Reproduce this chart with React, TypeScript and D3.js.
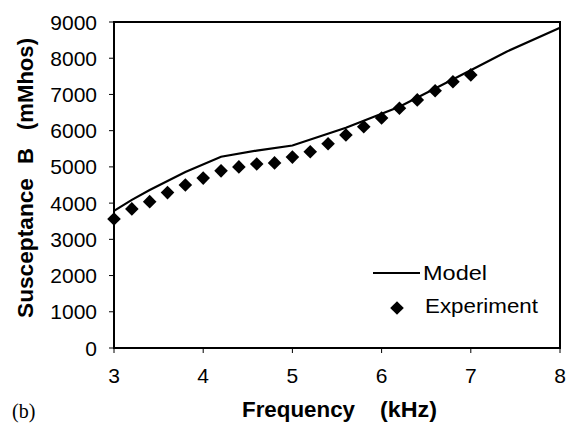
import React from "react";
import * as d3 from "d3";

const modelX = [3, 3.2, 3.4, 3.8, 4.2, 4.6, 5.0, 5.6, 6.2, 7.07, 7.4, 8.0];
const modelY = [3785, 4090, 4360, 4860, 5280, 5450, 5590, 6080, 6660, 7760, 8180, 8840];

const expX = [3.0, 3.2, 3.4, 3.6, 3.8, 4.0, 4.2, 4.4, 4.6, 4.8, 5.0, 5.2, 5.4, 5.6, 5.8, 6.0, 6.2, 6.4, 6.6, 6.8, 7.0];
const expY = [3560, 3840, 4040, 4290, 4500, 4690, 4890, 5000, 5080, 5110, 5270, 5420, 5640, 5880, 6110, 6350, 6620, 6850, 7100, 7350, 7540];

const xTicks = [3, 4, 5, 6, 7, 8];
const yTicks = [0, 1000, 2000, 3000, 4000, 5000, 6000, 7000, 8000, 9000];

const W = 567, H = 424;
const L = 114, R = 560, T = 22, B = 348;

export default function App() {
  const x = d3.scaleLinear().domain([3, 8]).range([L, R]);
  const y = d3.scaleLinear().domain([0, 9000]).range([B, T]);
  const line = d3.line<number>().x((_, i) => x(modelX[i])).y((d) => y(d));
  const dia = (cx: number, cy: number) => {
    const r = 6.8;
    return `M${cx},${cy - r}L${cx + r},${cy}L${cx},${cy + r}L${cx - r},${cy}Z`;
  };
  const font = "'Liberation Sans', Arial, sans-serif";
  return (
    <svg width={W} height={H} style={{ position: "absolute", left: 0, top: 0 }}>
      <rect width={W} height={H} fill="#fff" />
      {yTicks.map((t) => (
        <g key={t}>
          <line x1={L - 5} x2={L} y1={y(t)} y2={y(t)} stroke="#000" strokeWidth={1} />
          <text x={97} y={y(t)} dy="0.36em" textAnchor="end" fontFamily={font} fontSize={21}>
            {t}
          </text>
        </g>
      ))}
      {xTicks.map((t) => (
        <g key={t}>
          <line x1={x(t)} x2={x(t)} y1={B} y2={B + 5} stroke="#000" strokeWidth={1} />
          <text x={x(t)} y={383} textAnchor="middle" fontFamily={font} fontSize={21}>
            {t}
          </text>
        </g>
      ))}
      <path d={line(modelY) || ""} fill="none" stroke="#000" strokeWidth={2.2} />
      {expY.map((v, i) => (
        <path key={i} d={dia(x(expX[i]), y(v))} fill="#000" />
      ))}
      <rect x={L} y={T} width={R - L} height={B - T} fill="none" stroke="#000" strokeWidth={2} />
      <line x1={373} x2={420} y1={273} y2={273} stroke="#000" strokeWidth={2} />
      <text x={423} y={280} fontFamily={font} fontSize={21} textLength={64} lengthAdjust="spacingAndGlyphs">Model</text>
      <path d={dia(397, 308)} fill="#000" />
      <text x={425} y={313} fontFamily={font} fontSize={21} textLength={113} lengthAdjust="spacingAndGlyphs">Experiment</text>
      <g fontFamily={font} fontSize={22} fontWeight="bold">
        <text transform={`translate(33,318) rotate(-90)`} textLength={140} lengthAdjust="spacingAndGlyphs">Susceptance</text>
        <text transform={`translate(33,164) rotate(-90)`}>B</text>
        <text transform={`translate(33,130) rotate(-90)`} textLength={92} lengthAdjust="spacingAndGlyphs">(mMhos)</text>
        <text x={242} y={417} textLength={113} lengthAdjust="spacingAndGlyphs">Frequency</text>
        <text x={380} y={417} textLength={57} lengthAdjust="spacingAndGlyphs">(kHz)</text>
      </g>
      <text x={12} y={418} fontFamily="'Liberation Serif', 'Times New Roman', serif" fontSize={20}>
        (b)
      </text>
    </svg>
  );
}
